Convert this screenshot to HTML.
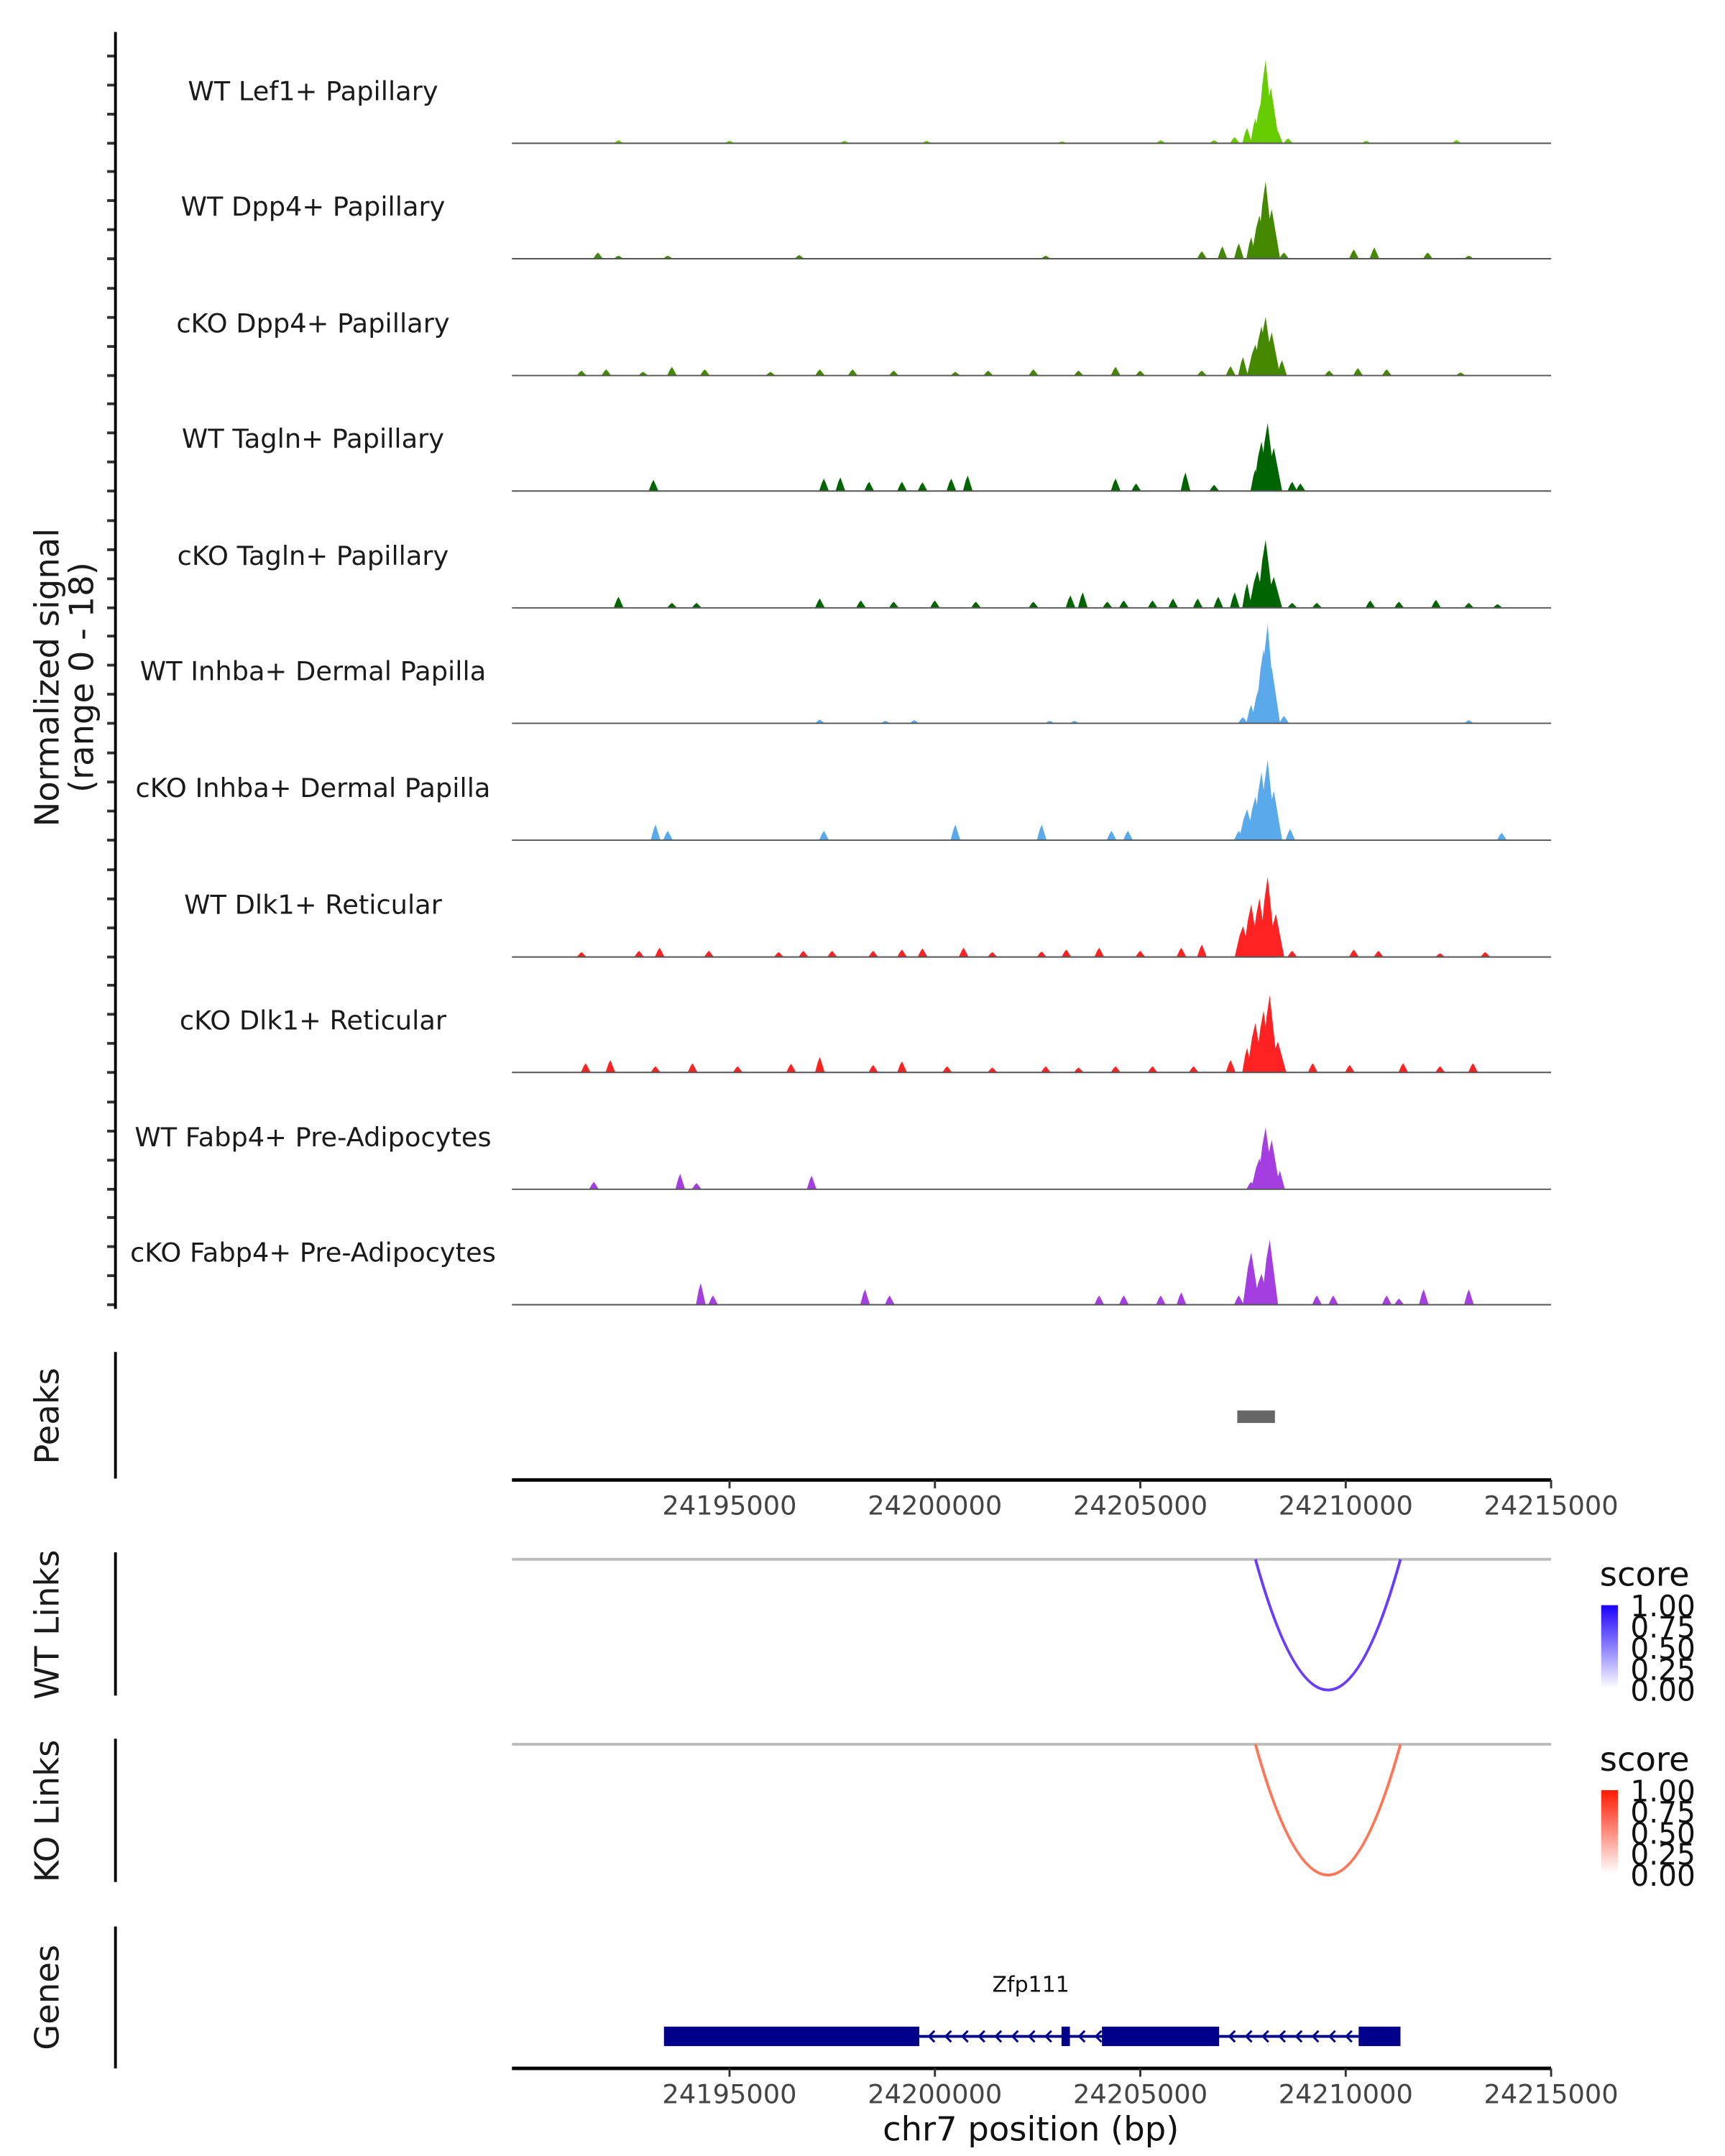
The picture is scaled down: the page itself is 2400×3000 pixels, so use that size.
<!DOCTYPE html>
<html><head><meta charset="utf-8"><style>
html,body{margin:0;padding:0;background:#fff}
svg{display:block}
text{font-family:"DejaVu Sans","Liberation Sans",sans-serif}
</style></head><body>
<svg id="chart" width="2400" height="3000" viewBox="0 0 1240 1550" xmlns="http://www.w3.org/2000/svg">
<defs>
<linearGradient id="gWT" x1="0" y1="1" x2="0" y2="0"><stop offset="0" stop-color="#ffffff"/><stop offset="1" stop-color="#1a00ff"/></linearGradient>
<linearGradient id="gKO" x1="0" y1="1" x2="0" y2="0"><stop offset="0" stop-color="#ffffff"/><stop offset="1" stop-color="#ff1a00"/></linearGradient>
</defs>
<g id="tracks"></g>
<g id="static"></g>
</svg>
<script>
// ---- data ----
const trackNames = ["WT Lef1+ Papillary","WT Dpp4+ Papillary","cKO Dpp4+ Papillary","WT Tagln+ Papillary","cKO Tagln+ Papillary","WT Inhba+ Dermal Papilla","cKO Inhba+ Dermal Papilla","WT Dlk1+ Reticular","cKO Dlk1+ Reticular","WT Fabp4+ Pre-Adipocytes","cKO Fabp4+ Pre-Adipocytes"];
const trackColors = ["#66cc00","#448800","#448800","#006400","#006400","#5aaaeb","#5aaaeb","#ff2222","#ff2222","#a43ee0","#a43ee0"];
// peaks per track: [position bp, height (0-18)]
const sigLef1 = [[24192300,0.5],[24195000,0.4],[24197800,0.4],[24199800,0.4],[24203100,0.3],[24205500,0.5],[24206800,0.5],[24207300,1],[24207600,2.5],[24207800,4],[24207950,7],[24208050,13.5],[24208180,9],[24208350,2],[24208600,0.8],[24210500,0.4],[24212700,0.5]];
const sigDpp4WT = [[24191800,1],[24192300,0.5],[24193500,0.5],[24196700,0.6],[24202700,0.5],[24206500,1.2],[24207000,2],[24207400,2.5],[24207700,3.5],[24207900,7],[24208050,12.5],[24208200,8],[24208500,1],[24210200,1.5],[24210700,1.8],[24212000,1],[24213000,0.5]];
const sigDpp4KO = [[24191400,0.8],[24192000,1],[24192900,0.6],[24193600,1.4],[24194400,1],[24196000,0.6],[24197200,1],[24198000,1],[24199000,0.8],[24200500,0.6],[24201300,0.8],[24202400,1],[24203500,0.8],[24204400,1.4],[24205000,0.8],[24206500,0.8],[24207200,1.5],[24207500,3],[24207800,5],[24207950,8],[24208050,9.5],[24208200,7],[24208450,2.5],[24209600,0.8],[24210300,1.2],[24211000,1],[24212800,0.5]];
const sigTaglnWT = [[24193150,1.8],[24197300,2],[24197700,2.2],[24198400,1.5],[24199200,1.5],[24199700,1.4],[24200400,2],[24200800,2.5],[24204400,2],[24204900,1.2],[24206100,3],[24206800,1],[24207800,3.5],[24207950,8],[24208100,11],[24208250,7],[24208700,1.5],[24208900,1.2]];
const sigTaglnKO = [[24192300,1.8],[24193600,0.8],[24194200,0.8],[24197200,1.5],[24198200,1.2],[24199000,1],[24200000,1.2],[24201000,1],[24202400,1],[24203300,2],[24203600,2.5],[24204200,1],[24204600,1.2],[24205300,1.2],[24205800,1.5],[24206400,1.5],[24206900,1.8],[24207300,2.5],[24207600,4],[24207850,6],[24208050,11],[24208250,5],[24208700,0.8],[24209300,0.8],[24210600,1.2],[24211300,1],[24212200,1.3],[24213000,0.8],[24213700,0.6]];
const sigInhbaWT = [[24197200,0.6],[24198800,0.4],[24199500,0.5],[24202800,0.4],[24203400,0.4],[24207500,1],[24207700,3],[24207900,6],[24208000,12],[24208100,16],[24208200,9],[24208500,1.2],[24213000,0.5]];
const sigInhbaKO = [[24193200,2.5],[24193500,1.5],[24197300,1.5],[24200500,2.5],[24202600,2.5],[24204300,1.5],[24204700,1.5],[24207400,1.5],[24207600,5],[24207800,7],[24207950,11],[24208100,13],[24208250,8],[24208650,1.8],[24213800,1.2]];
const sigDlk1WT = [[24191400,0.8],[24192800,1],[24193300,1.5],[24194500,1],[24196200,0.8],[24196800,1],[24197500,1],[24198500,1],[24199200,1.2],[24199700,1.4],[24200700,1.5],[24201400,0.8],[24202600,0.9],[24203200,1.2],[24204000,1.5],[24205000,1],[24206000,1.5],[24206500,2],[24207500,5],[24207700,8.5],[24207900,9.5],[24208100,13],[24208300,7],[24208700,1],[24210200,1.2],[24210800,1],[24212300,0.6],[24213400,0.8]];
const sigDlk1KO = [[24191500,1.5],[24192100,2],[24193200,1],[24194100,1.5],[24195200,1],[24196500,1.4],[24197200,2.5],[24198500,1.2],[24199200,1.8],[24200300,1],[24201400,0.8],[24202700,1],[24203500,0.8],[24204400,1],[24205300,1],[24206300,1],[24207200,2],[24207600,4],[24207800,8],[24208000,10],[24208150,12.5],[24208350,5],[24209200,1.5],[24210100,1.2],[24211400,1.5],[24212300,1],[24213100,1.5]];
const sigFabp4WT = [[24191700,1.2],[24193800,2.5],[24194200,1],[24197000,2.2],[24207700,1.2],[24207900,5],[24208050,10],[24208200,8],[24208400,3]];
const sigFabp4KO = [[24194300,3.5],[24194600,1.5],[24198300,2.5],[24198900,1.5],[24204000,1.5],[24204600,1.5],[24205500,1.5],[24206000,2],[24207400,1.5],[24207700,8.5],[24207950,5],[24208150,10.5],[24209300,1.5],[24209700,1.5],[24211000,1.5],[24211300,1],[24211900,2.5],[24213000,2.5]];
const trackSignals = [sigLef1,sigDpp4WT,sigDpp4KO,sigTaglnWT,sigTaglnKO,sigInhbaWT,sigInhbaKO,sigDlk1WT,sigDlk1KO,sigFabp4WT,sigFabp4KO];
const xTicks = [24195000,24200000,24205000,24210000,24215000];
const peakRegions = [[24207360,24208277]];
const wtLinks = [[24207802,24211333,0.75]];
const koLinks = [[24207802,24211333,0.65]];
const exons = [[24193404,24199618],[24203082,24203286],[24204066,24206919],[24210315,24211333]];
const intron = [24199618,24210315];
const legendTicks = ["1.00","0.75","0.50","0.25","0.00"];

// ---- scales ----
const X0 = 368, X1 = 1115, BP0 = 24189703, BP1 = 24215000;
const xs = bp => X0 + (bp - BP0) / (BP1 - BP0) * (X1 - X0);
const YMAX = 18, TH = 80;
const baselines = [103,186,270,353,437,520,604,688,771,855,938];
const NS = "http://www.w3.org/2000/svg";
function mk(tag, attrs, parent){ const e=document.createElementNS(NS,tag); for(const k in attrs) e.setAttribute(k,attrs[k]); parent.appendChild(e); return e; }
const tg = document.getElementById('tracks');
const sg = document.getElementById('static');

trackNames.forEach((name,i)=>{
  const b = baselines[i];
  const g = mk('g',{},tg);
  
  
  const t = mk('text',{x:225,y:b-31,'text-anchor':'middle','font-size':19,fill:'#1a1a1a'},g);
  t.textContent = name;
  
  
  trackSignals[i].forEach(([pos,h])=>{
    const w = h > 4 ? 6 : 3.5;
    const cx = xs(pos), top = b - h / YMAX * TH;
    const p = mk('polygon',{points:`${cx-w},${b} ${cx-w*0.4},${b-(b-top)*0.7} ${cx},${top} ${cx+w*0.4},${b-(b-top)*0.6} ${cx+w},${b}`,fill:trackColors[i]},g);
    
    
  });
  const bl = mk('line',{x1:X0,x2:X1,y1:b,y2:b,stroke:'#555','stroke-width':1},g);
  
  
  for(let k=0;k<4;k++){
    const y = b - k*20.9;
    const tk = mk('line',{x1:77,x2:83,y1:y,y2:y,stroke:'#333','stroke-width':2},sg);
    
    
  }
});

// left axis
const ax = mk('line',{x1:83,x2:83,y1:23,y2:941,stroke:'#000','stroke-width':2},sg);


function vtext(x,y,str,name,size){
  const t = mk('text',{x:0,y:0,transform:`translate(${x},${y}) rotate(-90)`,'text-anchor':'middle','font-size':size||24,fill:'#1a1a1a'},sg);
  t.textContent = str;
  
  
  return t;
}
vtext(42,487,'Normalized signal','y-axis-title');
vtext(67,487,'(range 0 - 18)','y-axis-range');

// side panels
[[972,1063,'Peaks',1018,'peaks-axis'],[1116,1219,'WT Links',1168,'wt-links-axis'],[1250,1353,'KO Links',1302,'ko-links-axis'],[1385,1487,'Genes',1436,'genes-axis']].forEach(([y1,y2,lbl,yc,nm])=>{
  const l = mk('line',{x1:83,x2:83,y1:y1,y2:y2,stroke:'#000','stroke-width':2},sg);
  
  
  vtext(42,yc,lbl,nm.replace('-axis','-title'));
});

// peaks
peakRegions.forEach(([a,b])=>{
  const r = mk('rect',{x:xs(a),y:1014,width:xs(b)-xs(a),height:9,fill:'#666'},sg);
  
  
});

function xAxis(y,nm){
  const l = mk('line',{x1:X0,x2:X1,y1:y,y2:y,stroke:'#000','stroke-width':2.5},sg);
  
  
  xTicks.forEach(v=>{
    const tk = mk('line',{x1:xs(v),x2:xs(v),y1:y,y2:y+6,stroke:'#333','stroke-width':1.5},sg);
    
    
    const t = mk('text',{x:xs(v),y:y+25,'text-anchor':'middle','font-size':19,fill:'#444'},sg);
    t.textContent = v;
    
    
  });
}
xAxis(1064,'peaks-x-axis');
xAxis(1487,'genes-x-axis');
const xt = mk('text',{x:741,y:1539,'text-anchor':'middle','font-size':24,fill:'#111'},sg);
xt.textContent = 'chr7 position (bp)';



// links
function links(data,y0,color,grad,nm){
  const gl = mk('line',{x1:X0,x2:X1,y1:y0,y2:y0,stroke:'#bbb','stroke-width':2},sg);
  
  
  data.forEach(([a,b])=>{
    const xa = xs(a), xb = xs(b), d = 94;
    const p = mk('path',{d:`M${xa},${y0} Q${(xa+xb)/2},${y0+2*d} ${xb},${y0}`,fill:'none',stroke:color,'stroke-width':2},sg);
    
    
  });
  const lt = mk('text',{x:1150,y:y0+19,'font-size':24,fill:'#111'},sg);
  lt.textContent = 'score';
  
  
  const cb = mk('rect',{x:1151,y:y0+33,width:12,height:60,fill:`url(#${grad})`},sg);
  
  
  legendTicks.forEach((s,k)=>{
    const t = mk('text',{x:1172,y:y0+41+k*15.2,'font-size':21,fill:'#111'},sg);
    t.textContent = s;
    
    
  });
}
links(wtLinks,1121,'#6a3cff','gWT','wt-links');
links(koLinks,1254,'#ff7555','gKO','ko-links');

// gene
const gc = '#00008b', gy = 1464;
const il = mk('line',{x1:xs(intron[0]),x2:xs(intron[1]),y1:gy,y2:gy,stroke:gc,'stroke-width':2},sg);


for(let x=xs(intron[0])+8;x<xs(intron[1])-5;x+=12){
  if([1,2,3].some(k=>x>xs(exons[k][0])-3&&x<xs(exons[k][1])+3)) continue;
  const a = mk('path',{d:`M${x+3},${gy-4} L${x-1},${gy} L${x+3},${gy+4}`,fill:'none',stroke:gc,'stroke-width':1.5},sg);
  
  
}
exons.forEach(([a,b])=>{
  const r = mk('rect',{x:xs(a),y:gy-7,width:xs(b)-xs(a),height:14,fill:gc},sg);
  
  
});
const gt = mk('text',{x:741,y:1432,'text-anchor':'middle','font-size':15.5,fill:'#111'},sg);
gt.textContent = 'Zfp111';


</script>
</body></html>
